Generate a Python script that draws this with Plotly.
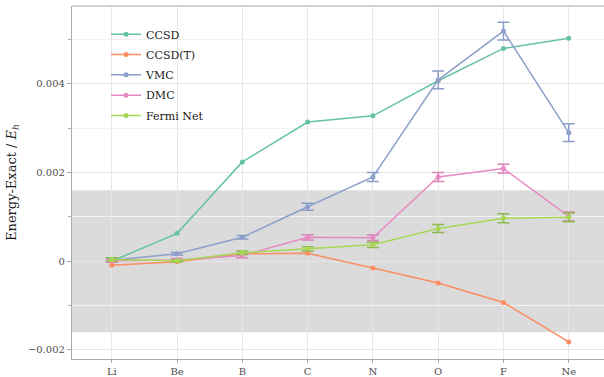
import plotly.graph_objects as go

atoms = ["Li", "Be", "B", "C", "N", "O", "F", "Ne"]

ccsd = [0.00000, 0.00063, 0.00224, 0.00314, 0.00328, 0.00407, 0.00480, 0.00503]
ccsd_t = [-0.00009, -0.00001, 0.00017, 0.00018, -0.00015, -0.00049, -0.00093, -0.00182]
vmc = [0.00002, 0.00017, 0.00054, 0.00123, 0.00190, 0.00409, 0.00519, 0.00290]
vmc_err = [0.00003, 0.00003, 0.00004, 0.00008, 0.00010, 0.00020, 0.00020, 0.00020]
dmc = [0.00001, 0.00003, 0.00013, 0.00054, 0.00053, 0.00190, 0.00209, 0.00101]
dmc_err = [0.00003, 0.00003, 0.00005, 0.00006, 0.00006, 0.00010, 0.00010, 0.00010]
fermi = [0.00004, 0.00001, 0.00019, 0.00028, 0.00037, 0.00074, 0.00097, 0.00099]
fermi_err = [0.00004, 0.00002, 0.00004, 0.00005, 0.00006, 0.00009, 0.00010, 0.00010]

chem_acc = 0.0016
yticks = [-0.002, 0, 0.002, 0.004]
ytick_text = ["\u22120.002", "0", "0.002", "0.004"]

series = [
    ("CCSD", ccsd, None, "#66c2a5", None),
    ("CCSD(T)", ccsd_t, None, "#fc8d62", None),
    ("VMC", vmc, vmc_err, "#8da0cb", "#8a9cc8"),
    ("DMC", dmc, dmc_err, "#e78ac3", "#d983b8"),
    ("Fermi Net", fermi, fermi_err, "#a6d854", "#8fb84c"),
]

fig = go.Figure()
xs = list(range(len(atoms)))
for name, vals, errs, col, ecol in series:
    kw = {}
    if errs is not None:
        kw["error_y"] = dict(type="data", array=errs, visible=True,
                             color=ecol, thickness=1.5, width=6)
    fig.add_trace(go.Scatter(
        x=xs, y=vals, name=name, legendgroup=name, mode="lines+markers",
        line=dict(color=col, width=1.5),
        marker=dict(color=col, size=5),
        **kw))

# chemical accuracy band
fig.add_shape(type="rect", xref="paper", yref="y", x0=0, x1=1,
              y0=-chem_acc, y1=chem_acc, fillcolor="rgba(0,0,0,0.14)",
              line=dict(width=0), layer="between")
# top panel border
fig.add_shape(type="line", xref="paper", yref="paper", x0=0, x1=1, y0=1, y1=1,
              line=dict(color="#aaaaaa", width=1.2))

serif = "DejaVu Serif"
fig.update_layout(
    width=604, height=377,
    margin=dict(l=72, r=0, t=6, b=15),
    paper_bgcolor="white", plot_bgcolor="white",
    font=dict(family=serif, color="#4d4d4d", size=10),
    showlegend=True,
    legend=dict(x=0.064, y=0.961, xanchor="left", yanchor="top",
                bgcolor="rgba(0,0,0,0)", font=dict(size=11, color="#1a1a1a", family=serif),
                tracegroupgap=1.3, itemwidth=30),
)
fig.update_xaxes(
    tickmode="array", tickvals=xs, ticktext=atoms,
    range=[-0.61, 7.54],
    showgrid=True, gridcolor="#e6e6e6", gridwidth=1,
    showline=True, linecolor="#aaaaaa", linewidth=1.2,
    ticks="outside", ticklen=3, tickcolor="#aaaaaa",
    zeroline=False, tickfont=dict(size=10, color="#4d4d4d"),
)
fig.update_yaxes(
    tickmode="array", tickvals=yticks, ticktext=ytick_text,
    range=[-0.002204, 0.005756],
    showgrid=True, gridcolor="#e6e6e6", gridwidth=1,
    minor=dict(dtick=0.001, tick0=0, showgrid=True, gridcolor="#f2f2f2",
               ticks="outside", ticklen=3, tickcolor="#aaaaaa"),
    showline=True, linecolor="#aaaaaa", linewidth=1.2,
    ticks="outside", ticklen=4, tickcolor="#aaaaaa",
    zeroline=False, tickfont=dict(size=10, color="#4d4d4d"),
    title=dict(text="Energy-Exact / <i>E<sub>h</sub></i>",
               font=dict(size=13, color="#1a1a1a", family=serif), standoff=8),
)

fig.write_html("out.html")
